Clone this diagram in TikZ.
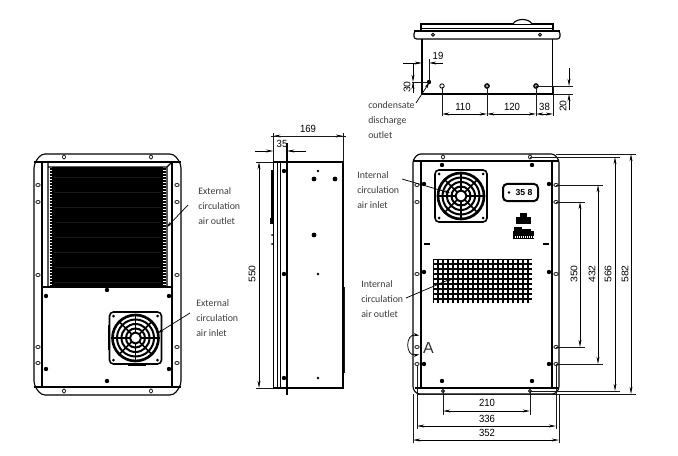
\documentclass[tikz,border=0pt]{standalone}
\usepackage{fontspec}
\setmainfont{Carlito}
\newfontfamily\dimfont{Liberation Sans}
\usetikzlibrary{arrows.meta, positioning, calc}
\definecolor{labelgray}{RGB}{60, 60, 60}
\tikzset{
    outline/.style = {line width=0.85pt, black},
    heavy/.style = {line width=1.3pt, black},
    extline/.style = {line width=0.5pt, black!90},
    dimline/.style = {line width=0.55pt, black, {Stealth[length=5.5pt, width=2.2pt]}-{Stealth[length=5.5pt, width=2.2pt]}},
    tipline/.style = {line width=0.55pt, black, -{Stealth[length=5.5pt, width=2.2pt]}},
    leader/.style = {line width=0.55pt, black, -{Stealth[length=4pt, width=2.4pt]}},
    dimtext/.style = {font=\dimfont\fontsize{7.8}{8}\selectfont, inner sep=0pt, xscale=0.92},
    dimrot/.style = {dimtext, rotate=90},
    callout/.style = {font=\fontsize{7.4}{11}\selectfont, text=labelgray, align=left, anchor=west, inner sep=0pt},
    screw/.style = {fill=black},
    fan/.pic = {
      \draw[line width=1.2pt, rounded corners=3pt, fill=white] (-26,-26) rectangle (26,26);
      \draw[line width=2pt] (0,0) circle (23);
      \foreach \r in {18.5,14,9.5,5.5}
        \draw[line width=1.5pt] (0,0) circle (\r);
      \foreach \a in {0,45,...,315}
        \draw[line width=1.1pt] (\a:5.5) -- (\a:24);
      \foreach \sx in {-22,22} \foreach \sy in {-22,22}
        \fill (\sx,\sy) circle (1.5);
    }
}

\begin{document}
\begin{tikzpicture}[x=0.75pt, y=-0.75pt]
  \useasboundingbox (0,0) rectangle (678,456);

  % left view
  \draw[outline, rounded corners=3pt] (34,164) -- (41,154) -- (174,154) -- (181,164) -- (181,385) -- (174,395) -- (41,395) -- (34,385) -- cycle;
  \draw[heavy] (34,162) -- (181,162);
  \draw[heavy] (42,162) -- (42,387) (172,162) -- (172,387) (34,387) -- (181,387);
  \draw[outline] (48,162) -- (48,287) (167,167) -- (167,287) (48,167) -- (167,167) (167,167) -- (172,162);
  \fill (52,167) rectangle (163,287);
  \foreach \y in {169,172,...,286} {
    \draw[line width=0.9pt] (49.5,\y) -- (52,\y);
    \draw[line width=0.9pt] (163,\y) -- (165.5,\y);
  }
  \foreach \y in {177,192,...,285}
    \draw[black!90, line width=0.2pt] (54,\y) -- (161,\y);
  \draw[heavy, fill=white] (42,287) rectangle (172,387);
  \foreach \x in {38,177} \foreach \y in {185,202,275,347,363}
    \draw[line width=0.55pt, fill=white] (\x,\y) ellipse (2.2 and 1.5);
  \foreach \x in {64,151} \foreach \y in {157,391}
    \draw[line width=0.55pt, fill=white] (\x,\y) ellipse (1.5 and 2);
  \foreach \x/\y in {46/296,107/290,169/296,46/369,169/369,107/381}
    \fill[screw] (\x,\y) circle (2.2);
  \pic at (135.5,338) {fan};
  \draw[line width=1pt] (108.5,325) -- (108.5,350) (128,365) -- (146,365);

  \node[callout] (extoutlabel) at (198,206) {External\\circulation\\air outlet};
  \node[callout] (extinlabel) at (196,318) {External\\circulation\\air inlet};
  \coordinate (extouttip) at (167,227);
  \coordinate (extintip) at (158,333);
  \draw[leader] ($(extoutlabel.west)+(-10,-1)$) -- (extouttip);
  \draw[leader] ($(extinlabel.west)+(-6,-5)$) -- (extintip);

  % side view
  \draw[outline] (273.3,162) rectangle (343,388);
  \draw[heavy] (273.3,162) -- (343,162) (273.3,388) -- (343,388);
  \draw[outline] (277.3,162) -- (277.3,388) (280.3,162) -- (280.3,388);
  \draw[outline] (287,143) -- (287,395);
  \draw[heavy] (272,170) -- (272,223);
  \draw[line width=1.2pt] (344.3,312) -- (344.3,363);
  \draw[extline] (344.8,287) -- (344.8,373);
  \fill (269.5,218) rectangle (272.5,224);
  \foreach \y in {235,244} \fill (272,\y) circle (1);
  \foreach \y in {171,274,378} {
    \fill[screw] (284,\y) circle (2.2);
    \fill[screw] (318,\y) circle (1.3);
  }
  \foreach \x/\y in {314/179,335/179,314/235} \fill[screw] (\x,\y) circle (2.4);

  \coordinate (sideleft) at (273.3,136);
  \coordinate (sideright) at (343,136);
  \draw[extline] (273.3,133) -- (273.3,162) (343,133) -- (343,162);
  \draw[dimline] (sideleft) -- (sideright);
  \draw[extline] (271,136) -- (346,136);
  \node[dimtext] (depthfull) at (308,129) {169};
  \draw[tipline] (255,151) -- (273.3,151);
  \draw[tipline] (306,151) -- (287,151);
  \node[dimtext] (depthflange) at (282,144) {35};
  \draw[extline] (256,162) -- (273.3,162) (256,388) -- (273.3,388);
  \draw[dimline] (259,162) -- (259,388);
  \node[dimrot] (sideheight) at (252,274) {550};

  % top view
  \draw[outline] (421,24) rectangle (553,28.5);
  \draw[outline, fill=white] (513,24) .. controls (516,18) and (529,18) .. (532,24);
  \draw[heavy] (426,24) -- (487,24);
  \draw[heavy] (421,24) -- (421,31) (553,24) -- (553,31);
  \draw[outline, rounded corners=2pt] (414,31) rectangle (560,39);
  \draw[heavy] (414,31) -- (560,31);
  \foreach \x in {433,540}
    \draw[line width=0.7pt, fill=white] (\x,34.8) circle (1.5);
  \draw[heavy] (422,39) -- (422,94);
  \draw[outline] (552.5,39) -- (552.5,94) (422,94) -- (552.5,94);
  \draw[heavy] (433,94.5) -- (486,94.5);
  \draw[line width=0.6pt, fill=white] (442,86) circle (2.2);
  \draw[line width=0.9pt, fill=black!40] (487,86) circle (2.2);
  \draw[line width=0.9pt, fill=black!40] (536,86) circle (2.2);
  \fill[screw] (429,82) circle (2.2);

  \draw[extline] (429,59) -- (429,82) (412,82) -- (429,82) (413,82) -- (413,93);
  \draw[tipline] (403,63) -- (422,63);
  \draw[tipline] (443,63) -- (429,63);
  \draw[tipline] (413,63) -- (413,82);
  \draw[tipline] (413,93) -- (413,82);
  \node[dimtext] (outletx) at (438,56) {19};
  \node[dimrot] (outlety) at (407,87) {30};

  \foreach \x in {442,487,536,553}
    \draw[extline] (\x,87) -- (\x,116);
  \draw[dimline] (442,114) -- (487,114);
  \draw[dimline] (487,114) -- (536,114);
  \draw[dimline] (536,114) -- (553,114);
  \node[dimtext] (pitcha) at (463,107) {110};
  \node[dimtext] (pitchb) at (512,107) {120};
  \node[dimtext] (pitchc) at (544.5,107) {38};
  \draw[extline] (536,86) -- (573,86) (553,94) -- (573,94);
  \draw[tipline] (569,68) -- (569,86);
  \draw[tipline] (569,110) -- (569,94);
  \node[dimrot] (pitchy) at (563,106) {20};

  \node[callout] (drainlabel) at (368,120) {condensate\\discharge\\outlet};
  \coordinate (draintip) at (429,83);
  \draw[leader] (416,103) -- (draintip);

  % right view
  \draw[outline, rounded corners=2pt] (413,160) -- (418,154) -- (554,154) -- (559,160) -- (559,389) -- (555,394) -- (417,394) -- (413,389) -- cycle;
  \draw[outline] (413,161) -- (559,161);
  \draw[heavy] (421,161) -- (421,388) (552,161) -- (552,388) (415,388) -- (558,388);
  \foreach \x in {417,556} \foreach \y in {185,202,274,347,364}
    \draw[line width=0.55pt, fill=white] (\x,\y) ellipse (2.2 and 1.5);
  \foreach \x in {443,530} {
    \draw[line width=0.55pt, fill=white] (\x,157) ellipse (1.5 and 2);
    \draw[line width=0.55pt, fill=white] (\x,391) circle (1.5);
  }
  \foreach \x in {424,549} \foreach \y in {184,272,364}
    \fill[screw] (\x,\y) circle (2.2);
  \foreach \x in {442,532} {
    \fill[screw] (\x,165) circle (2.2);
    \fill[screw] (\x,381) circle (2.2);
  }
  \pic at (461,196) {fan};

  \draw[line width=1.5pt, rounded corners=3pt] (503,184) rectangle (538,201);
  \fill[screw] (509,192.5) circle (1.4);
  \node[font=\dimfont\bfseries\fontsize{6.5}{7}\selectfont, inner sep=0pt] (display) at (524,192.5) {35 8};
  \fill (516,217) rectangle (531,224);
  \fill (520,213) rectangle (527,217);
  \fill (513,231) rectangle (534,239);
  \fill (514,227) rectangle (522,231);
  \fill (522,229) rectangle (531,231);
  \foreach \x in {515,517,...,533}
    \draw[white, line width=0.3pt] (\x,235.5) -- (\x,238);
  \foreach \x in {427,546}
    \fill (\x-3,243) rectangle (\x+3,245);

  \fill (433,259) rectangle (532,303);
  \foreach \x in {434,439,...,529} \foreach \y in {260,265,...,300}
    \fill[white] (\x,\y) rectangle ++(3.1,3.1);

  \node[callout] (intinlabel) at (357,190) {Internal\\circulation\\air inlet};
  \node[callout] (intoutlabel) at (361,299) {Internal\\circulation\\air outlet};
  \coordinate (intintip) at (450,193);
  \coordinate (intouttip) at (453,278);
  \draw[leader] (402,179) -- (intintip);
  \draw[leader] (406,298) -- (intouttip);

  \draw[line width=0.55pt, {Stealth[length=4pt, width=2.5pt]}-{Stealth[length=4pt, width=2.5pt]}] (419,335.5) .. controls (405,333) and (405,357) .. (419,354.5);
  \node[font=\dimfont\fontsize{12}{12}\selectfont, inner sep=0pt, black!80] (detailA) at (428.5,348) {A};

  \draw[extline] (556,202) -- (585,202) (556,347) -- (585,347);
  \draw[dimline] (580,202) -- (580,347);
  \node[dimrot] (holea) at (574,274) {350};
  \draw[extline] (556,185) -- (603,185) (556,364) -- (603,364);
  \draw[dimline] (598,185) -- (598,364);
  \node[dimrot] (holeb) at (592,274) {432};
  \draw[extline] (530,157) -- (620,157) (530,391) -- (620,391);
  \draw[dimline] (615,157) -- (615,391);
  \node[dimrot] (holec) at (608,274) {566};
  \draw[extline] (556,154) -- (636,154) (417,394) -- (636,394);
  \draw[dimline] (631,154) -- (631,394);
  \node[dimrot] (fullheight) at (625,274) {582};

  \draw[extline] (443,391) -- (443,415) (530,391) -- (530,415);
  \draw[dimline] (443,411) -- (530,411);
  \node[dimtext] (widtha) at (487,403) {210};
  \draw[extline] (417,366) -- (417,429) (556,366) -- (556,429);
  \draw[dimline] (417,426) -- (556,426);
  \node[dimtext] (widthb) at (487,419) {336};
  \draw[extline] (413,394) -- (413,443) (559,394) -- (559,443);
  \draw[dimline] (413,440) -- (559,440);
  \node[dimtext] (widthc) at (487,433) {352};
\end{tikzpicture}
\end{document}
